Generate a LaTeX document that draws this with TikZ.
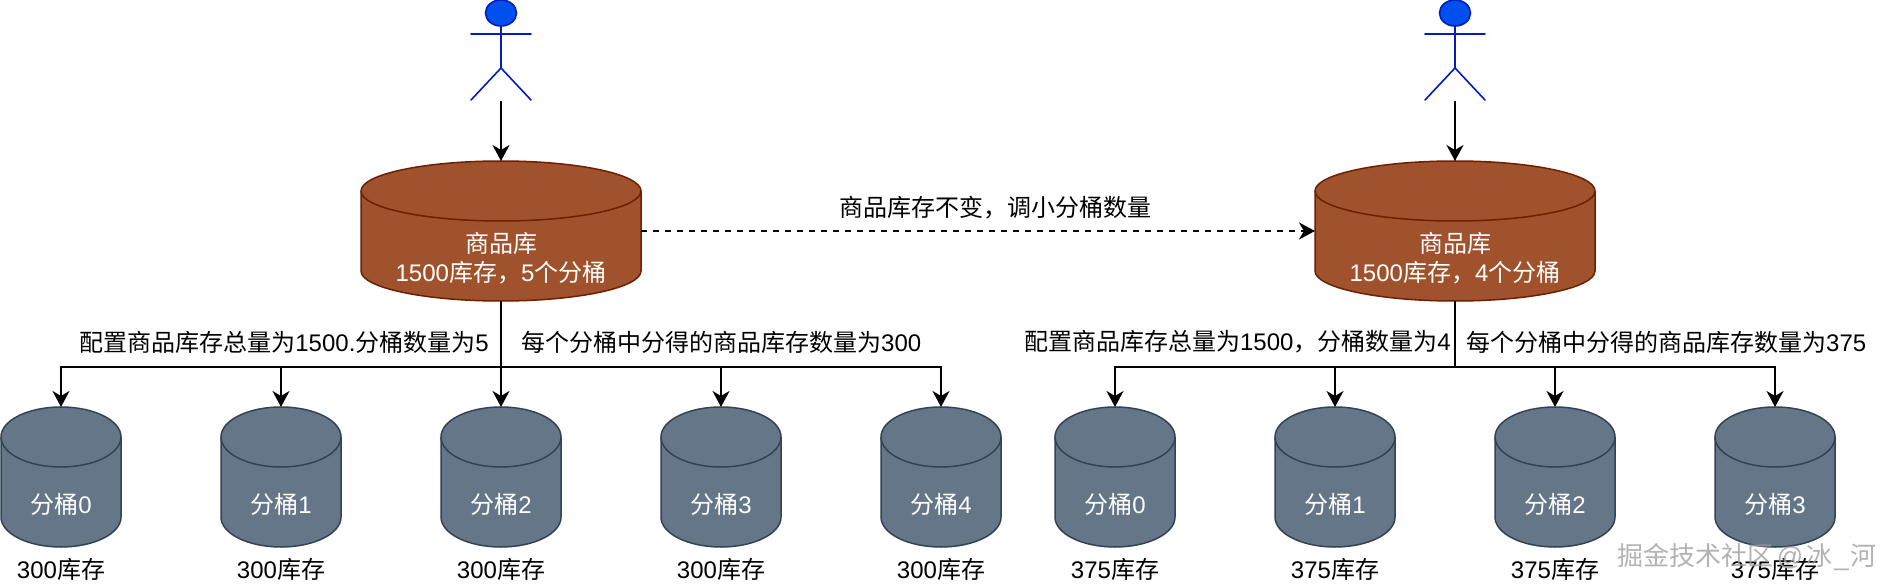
\documentclass[tikz,border=0pt]{standalone}
\usepackage{fontspec}
\setmainfont{Liberation Sans}
\newfontfamily\cjk{Noto Sans CJK SC}
\usetikzlibrary{arrows.meta}
\definecolor{bigfill}{HTML}{A0522D}
\definecolor{bigline}{HTML}{6D1F00}
\definecolor{smallfill}{HTML}{647687}
\definecolor{smallline}{HTML}{314354}
\definecolor{actfill}{HTML}{0050EF}
\definecolor{actline}{HTML}{001DBC}
\definecolor{wm}{HTML}{A0A0A0}
\tikzset{
  x=1pt,y=-1pt,
  box/.style={rectangle,inner sep=0pt,outer sep=0pt},
  lbl/.style={inner sep=0pt,font=\fontsize{24}{29}\selectfont,text=black,align=center},
  cyltext/.style={lbl,text=white},
  conn/.style={line width=1.8pt,-{Stealth[length=16pt,width=17pt,inset=5pt]}},
  dconn/.style={conn,dash pattern=on 6pt off 6pt},
  actorline/.style={line width=1.6pt,draw=actline,line cap=round},
}
% name, cx, top y, width, height, fill, line
\newcommand{\cyl}[7]{%
  \pgfmathsetmacro{\rx}{#4/2}%
  \pgfmathsetmacro{\ymid}{#3+30}%
  \pgfmathsetmacro{\ybot}{#3+#5-30}%
  \pgfmathsetmacro{\ycen}{#3+#5/2}%
  \pgfmathsetmacro{\xl}{#2-#4/2}%
  \pgfmathsetmacro{\xr}{#2+#4/2}%
  \path[fill=#6,draw=#7,line width=1.5pt]
    (\xl,\ymid) arc[start angle=180,end angle=0,x radius=\rx,y radius=-30]
    -- (\xr,\ybot) arc[start angle=0,end angle=-180,x radius=\rx,y radius=-30] -- cycle;
  \path[draw=#7,line width=1.5pt]
    (\xl,\ymid) arc[start angle=180,end angle=360,x radius=\rx,y radius=-30];
  \node[box,minimum width=#4pt,minimum height=#5pt] (#1) at (#2,\ycen) {};
}
\newcommand{\actor}[2]{% name, cx
  \node[box,minimum width=60pt,minimum height=101pt] (#1) at (#2,50.5) {};
  \draw[actorline,fill=actfill] (#2,13) ellipse[x radius=15.5,y radius=13];
  \draw[actorline] (#2,26) -- (#2,68) (#2-30,34) -- (#2+30,34)
    (#2-30,100) -- (#2,68) -- (#2+30,100);
}
\begin{document}
\begin{tikzpicture}
\useasboundingbox[fill=white] (0,0) rectangle (1882,588);

% left group
\actor{actorA}{501}
\cyl{bigA}{501}{161}{280}{140}{bigfill}{bigline}
\node[cyltext] (bigAt) at (501,258) {{\cjk 商品库}\\1500{\cjk 库存，}5{\cjk 个分桶}};
\draw[conn] (actorA.south) -- (bigA.north);
\foreach \n/\x in {0/61,1/281,2/501,3/721,4/941}{
  \cyl{a\n}{\x}{407}{120}{140}{smallfill}{smallline}
  \node[cyltext] (a\n t) at (\x,504) {{\cjk 分桶}\n};
  \node[lbl] (a\n s) at (\x,569) {300{\cjk 库存}};
}
\coordinate (busA) at (501,367);
\foreach \n in {0,1,2,3,4}{ \draw[conn] (bigA.south) -- (busA) -| (a\n.north); }
\node[lbl,anchor=east] (cfgA) at (489,342) {{\cjk 配置商品库存总量为}1500.{\cjk 分桶数量为}5};
\node[lbl,anchor=west] (resA) at (521,342) {{\cjk 每个分桶中分得的商品库存数量为}300};

% right group
\actor{actorB}{1455}
\cyl{bigB}{1455}{161}{280}{140}{bigfill}{bigline}
\node[cyltext] (bigBt) at (1455,258) {{\cjk 商品库}\\1500{\cjk 库存，}4{\cjk 个分桶}};
\draw[conn] (actorB.south) -- (bigB.north);
\foreach \n/\x in {0/1115,1/1335,2/1555,3/1775}{
  \cyl{b\n}{\x}{407}{120}{140}{smallfill}{smallline}
  \node[cyltext] (b\n t) at (\x,504) {{\cjk 分桶}\n};
  \node[lbl] (b\n s) at (\x,569) {375{\cjk 库存}};
}
\coordinate (busB) at (1455,367);
\foreach \n in {0,1,2,3}{ \draw[conn] (bigB.south) -- (busB) -| (b\n.north); }
\node[lbl,anchor=east] (cfgB) at (1451,342) {{\cjk 配置商品库存总量为}1500{\cjk ，分桶数量为}4};
\node[lbl,anchor=west] (resB) at (1466,342) {{\cjk 每个分桶中分得的商品库存数量为}375};

% link between groups
\coordinate (fromA) at (641,231);
\coordinate (toB) at (1315,231);
\draw[dconn] (fromA) -- (toB);
\node[lbl] (chg) at (995,208) {{\cjk 商品库存不变，调小分桶数量}};

% watermark
\node[inner sep=0pt,anchor=east,text=wm,text opacity=0.8,font=\fontsize{26}{30}\selectfont] (wmk) at (1877,557) {{\cjk 掘金技术社区}\kern3pt @\kern3pt {\cjk 冰}\kern2pt\_\kern2pt{\cjk 河}};
\end{tikzpicture}
\end{document}
